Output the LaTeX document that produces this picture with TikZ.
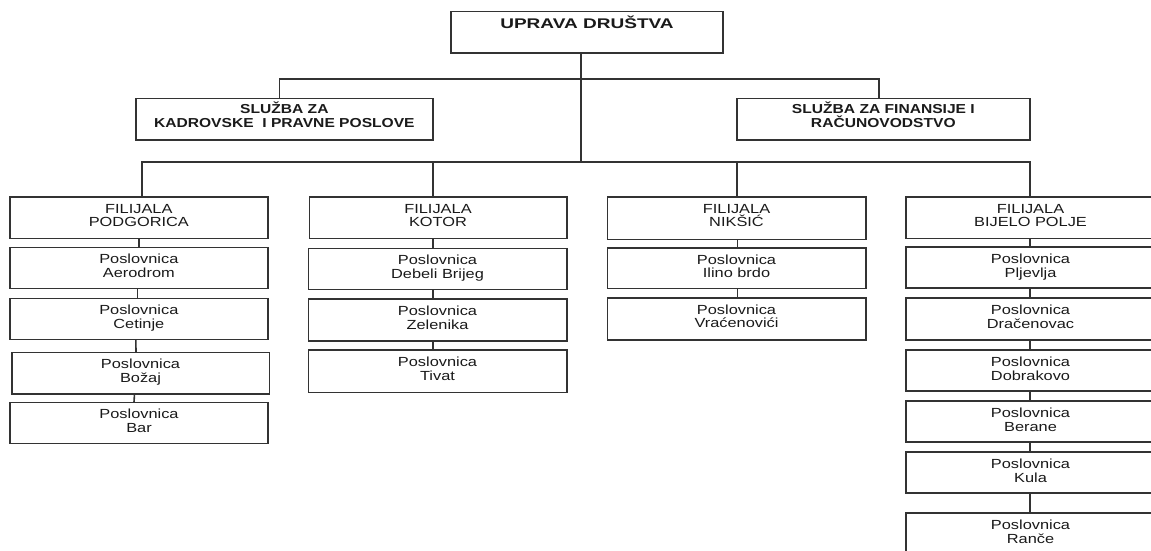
\documentclass[tikz,border=0pt]{standalone}
\usepackage{fontspec}
\newfontfamily\pfont[FakeStretch=1.24]{Liberation Sans}
\newfontfamily\sfontb[FakeStretch=1.2,BoldFont={* Bold}]{Liberation Sans}
\newfontfamily\tfontb[FakeStretch=1.36,BoldFont={* Bold}]{Liberation Sans}
\definecolor{lc}{HTML}{333333}
\definecolor{tc}{HTML}{1A1A1A}
\tikzset{
  bx/.style={draw=lc, line width=1.6pt, rectangle, inner sep=0pt, outer sep=0pt},
  conn/.style={draw=lc, line width=1.6pt},
  ptext/.style={anchor=base, align=center, inner sep=0pt, text=tc,
    font=\pfont\fontsize{13.2}{13.6}\selectfont},
  stext/.style={anchor=base, align=center, inner sep=0pt, text=tc,
    font=\sfontb\bfseries\fontsize{13}{13.4}\selectfont},
  ttext/.style={anchor=base, align=center, inner sep=0pt, text=tc,
    font=\tfontb\bfseries\fontsize{14}{14}\selectfont}
}
% name, left, top, right, bottom, text style, baseline offset of the last line, text
\newcommand\orgbox[8]{%
  \node[bx, minimum width={#4-#2}, minimum height={#5-#3}] (#1) at ({(#2+#4)/2},{(#3+#5)/2}) {};
  \node[#6] (#1t) at ([yshift=-#7pt]#1.north) {#8};}
\begin{document}
\begin{tikzpicture}[x=1pt,y=-1pt]
\useasboundingbox[fill=white] (0,0) rectangle (1151,551);
% top level
\orgbox{top}{451}{11.7}{723}{53.3}{ttext}{17.3}{UPRAVA DRUŠTVA}
\orgbox{sl}{136}{98.3}{432.7}{140}{stext}{29}{SLUŽBA ZA\\KADROVSKE \ I PRAVNE POSLOVE}
\orgbox{sr}{736.7}{98.3}{1030}{140}{stext}{29}{SLUŽBA ZA FINANSIJE I\\RAČUNOVODSTVO}
% branches
\orgbox{pg}{10}{196.7}{267.7}{238.3}{ptext}{30}{FILIJALA\\PODGORICA}
\orgbox{kt}{309.3}{196.7}{566.7}{238.3}{ptext}{30}{FILIJALA\\KOTOR}
\orgbox{nk}{607.3}{196.7}{865.7}{239.3}{ptext}{30}{FILIJALA\\NIKŠIĆ}
\orgbox{bp}{906}{196.7}{1155}{238.3}{ptext}{30}{FILIJALA\\BIJELO POLJE}
% Podgorica
\orgbox{pg1}{10}{247.3}{267.7}{288.3}{ptext}{30}{Poslovnica\\Aerodrom}
\orgbox{pg2}{10}{298.3}{267.7}{339.3}{ptext}{30}{Poslovnica\\Cetinje}
\orgbox{pg3}{11.7}{352.3}{269.3}{394}{ptext}{30}{Poslovnica\\Božaj}
\orgbox{pg4}{10}{402.3}{268}{443.3}{ptext}{30}{Poslovnica\\Bar}
% Kotor
\orgbox{kt1}{308.3}{248.3}{566.7}{289.3}{ptext}{30}{Poslovnica\\Debeli Brijeg}
\orgbox{kt2}{308.3}{299}{566.7}{340.7}{ptext}{30}{Poslovnica\\Zelenika}
\orgbox{kt3}{308.3}{350}{566.7}{392.3}{ptext}{30}{Poslovnica\\Tivat}
% Niksic
\orgbox{nk1}{607.3}{247.7}{865.7}{288.3}{ptext}{30}{Poslovnica\\Ilino brdo}
\orgbox{nk2}{607.3}{297.7}{865.7}{340}{ptext}{30}{Poslovnica\\Vraćenovići}
% Bijelo Polje
\orgbox{bp1}{906}{247}{1155}{288}{ptext}{30}{Poslovnica\\Pljevlja}
\orgbox{bp2}{906}{298}{1155}{340}{ptext}{30}{Poslovnica\\Dračenovac}
\orgbox{bp3}{906}{350}{1155}{391}{ptext}{30}{Poslovnica\\Dobrakovo}
\orgbox{bp4}{906}{401}{1155}{442}{ptext}{30}{Poslovnica\\Berane}
\orgbox{bp5}{906}{452}{1155}{493}{ptext}{30}{Poslovnica\\Kula}
\orgbox{bp6}{906}{513}{1155}{580}{ptext}{30}{Poslovnica\\Ranče}
% junctions
\coordinate (j1) at (580.7,79);
\coordinate (j2) at (580.7,161.7);
\coordinate (slc) at ([xshift=-5pt]sl.north);
\coordinate (src) at ([xshift=-4.3pt]sr.north);
\coordinate (pgc) at ([xshift=3pt]pg.north);
\coordinate (ktc) at ([xshift=-5.3pt]kt.north);
\coordinate (nkc) at ([xshift=0.5pt]nk.north);
\coordinate (bpc) at ([xshift=-0.5pt]bp.north);
% connectors
\draw[conn] (top.south -| j1) -- (j2);
\draw[conn] (slc) -- (slc |- j1) -- (src |- j1) -- (src);
\draw[conn] (pgc) -- (pgc |- j2) -- (bpc |- j2) -- (bpc);
\draw[conn] (ktc) -- (ktc |- j2);
\draw[conn] (nkc) -- (nkc |- j2);
% Podgorica chain
\draw[conn] (pg.south) -- (pg1.north);
\draw[conn] ([xshift=-1.5pt]pg1.south) -- ([xshift=-1.5pt]pg2.north);
\draw[conn] ([xshift=-3pt]pg2.south) -- ([xshift=-4.5pt]pg3.north);
\draw[conn] ([xshift=-6pt]pg3.south) -- ([xshift=-5pt]pg4.north);
% Kotor chain
\draw[conn] ([xshift=-5.3pt]kt.south) -- ([xshift=-4.8pt]kt1.north);
\draw[conn] ([xshift=-4.8pt]kt1.south) -- ([xshift=-4.8pt]kt2.north);
\draw[conn] ([xshift=-4.8pt]kt2.south) -- ([xshift=-4.8pt]kt3.north);
% Niksic chain
\draw[conn] ([xshift=0.8pt]nk.south) -- ([xshift=0.8pt]nk1.north);
\draw[conn] ([xshift=0.8pt]nk1.south) -- ([xshift=0.8pt]nk2.north);
% Bijelo Polje chain
\draw[conn] ([xshift=-0.8pt]bp.south) -- ([xshift=-0.8pt]bp1.north);
\draw[conn] ([xshift=-0.8pt]bp1.south) -- ([xshift=-0.8pt]bp2.north);
\draw[conn] ([xshift=-0.8pt]bp2.south) -- ([xshift=-0.8pt]bp3.north);
\draw[conn] ([xshift=-0.8pt]bp3.south) -- ([xshift=-0.8pt]bp4.north);
\draw[conn] ([xshift=-0.8pt]bp4.south) -- ([xshift=-0.8pt]bp5.north);
\draw[conn] ([xshift=-0.8pt]bp5.south) -- ([xshift=-0.8pt]bp6.north);
\end{tikzpicture}
\end{document}
